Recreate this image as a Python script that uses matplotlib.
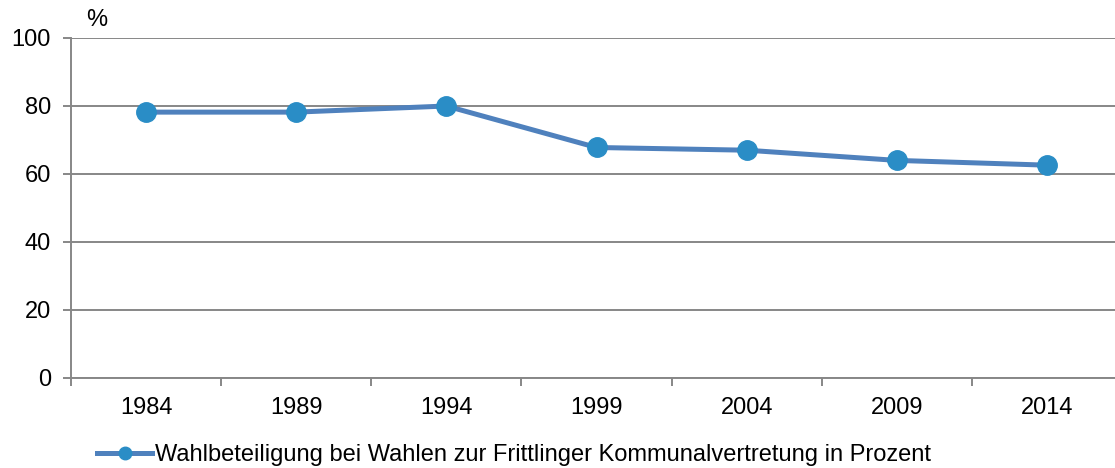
import matplotlib.pyplot as plt

plt.rcParams['font.family'] = ['Liberation Sans', 'DejaVu Sans']

# data
years = ["1984", "1989", "1994", "1999", "2004", "2009", "2014"]
turnout = [78.2, 78.2, 80.0, 67.8, 67.0, 64.0, 62.6]
label = "Wahlbeteiligung bei Wahlen zur Frittlinger Kommunalvertretung in Prozent"

fig = plt.figure(figsize=(11.15, 4.68), dpi=100)
# axes runs slightly past the right edge, like the original
ax = fig.add_axes([71 / 1115, 1 - 378 / 468, (1122 - 71) / 1115, 340 / 468])

x = list(range(len(years)))
ax.plot(x, turnout, color="#4F81BD", linewidth=3.6,
        marker="o", markersize=14, markerfacecolor="#2A8DC6",
        markeredgecolor="#2A8DC6", label=label, zorder=3)

ax.set_xlim(-0.5, len(years) - 0.5)
ax.set_ylim(0, 100)
ax.set_yticks(range(0, 101, 20))
ax.set_xticks(x)
ax.set_xticklabels(years)
ax.set_xticks([i - 0.5 for i in range(len(years) + 1)], minor=True)

grid_col = "#878787"
ax.yaxis.grid(True, color=grid_col, linewidth=1.4)
ax.set_axisbelow(True)
for s in ["top", "right"]:
    ax.spines[s].set_visible(False)
for s in ["left", "bottom"]:
    ax.spines[s].set_color(grid_col)
    ax.spines[s].set_linewidth(1.4)

fs = 17
ax.tick_params(axis="x", which="major", length=0, pad=14, labelsize=fs)
ax.tick_params(axis="x", which="minor", length=5.5, color=grid_col, width=1.4)
ax.tick_params(axis="y", length=5.5, color=grid_col, width=1.4, labelsize=fs, pad=9)

fig.text(86 / 1115, 1 - 20 / 468, "%", fontsize=fs, va="center", ha="left")

leg = fig.legend(loc="center left", bbox_to_anchor=(97 / 1115, 1 - 455 / 468),
                 frameon=False, fontsize=fs, handlelength=2.35, handletextpad=0.1,
                 borderpad=0, borderaxespad=0)
for h in leg.legend_handles:
    h.set_markersize(9)

fig.savefig("out.png", dpi=100)
